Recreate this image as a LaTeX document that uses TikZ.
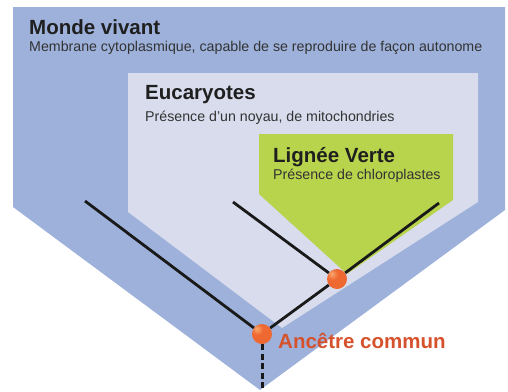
\documentclass[tikz,border=0pt]{standalone}
\usepackage{fontspec}
\setmainfont{Liberation Sans}

\definecolor{mondebleu}{RGB}{157,177,219}
\definecolor{eucalavande}{RGB}{216,220,236}
\definecolor{lignevert}{RGB}{184,211,76}
\definecolor{ancetrerouge}{RGB}{214,82,44}
\definecolor{bouleclair}{RGB}{250,170,110}
\definecolor{boulemilieu}{RGB}{238,104,50}
\definecolor{bouleombre}{RGB}{200,70,35}
\pgfdeclareradialshading{boule}{\pgfpoint{-14bp}{14bp}}{color(0bp)=(bouleclair); color(14bp)=(boulemilieu); color(45bp)=(boulemilieu); color(72bp)=(bouleombre)}

\begin{document}
\begin{tikzpicture}[x=1pt, y=-1pt,
  titre/.style={font=\fontsize{20.5}{24}\selectfont\bfseries, anchor=base west, inner sep=0pt, text=black!88},
  descr/.style={font=\fontsize{14.2}{17}\selectfont, anchor=base west, inner sep=0pt, text=black!80},
  branche/.style={line width=2.8pt, black!90},
  noeud/.style={circle, minimum size=20pt, inner sep=0pt, shading=boule}
]
\useasboundingbox (0,0) rectangle (508,391);

% les trois ensembles emboites
\fill[mondebleu] (13,7) -- (505,7) -- (505,210) -- (260,390) -- (13,207) -- cycle;
\fill[eucalavande] (128,73) -- (478,73) -- (478,202) -- (282,328) -- (128,212) -- cycle;
\fill[lignevert] (259,134) -- (453,134) -- (453,200) -- (347,274) -- (259,194) -- cycle;

\node[titre] (monde) at (29,34) {Monde vivant};
\node[descr] (mondetxt) at (29,51) {Membrane cytoplasmique, capable de se reproduire de façon autonome};
\node[titre] (euca) at (145,99) {Eucaryotes};
\node[descr] (eucatxt) at (145,121) {Présence d'un noyau, de mitochondries};
\node[titre] (lignee) at (273,162) {Lignée Verte};
\node[descr] (ligneetxt) at (273,179) {Présence de chloroplastes};

% arbre
\coordinate (fmonde) at (85,201);
\coordinate (feuca) at (233,202);
\coordinate (fvert) at (439,203);
\coordinate (racine) at (262,392);
\node[noeud] (anc) at (262,334) {};
\node[noeud] (euc) at (337,279) {};
\draw[branche] (fmonde) -- (anc);
\draw[branche] (feuca) -- (euc);
\draw[branche] (fvert) -- (euc);
\draw[branche] (euc) -- (anc);
\draw[branche, line width=3pt, dash pattern=on 6pt off 3.5pt] (anc) -- (racine);

\node[titre, text=ancetrerouge] (anclbl) at (278,348) {Ancêtre commun};
\end{tikzpicture}
\end{document}
